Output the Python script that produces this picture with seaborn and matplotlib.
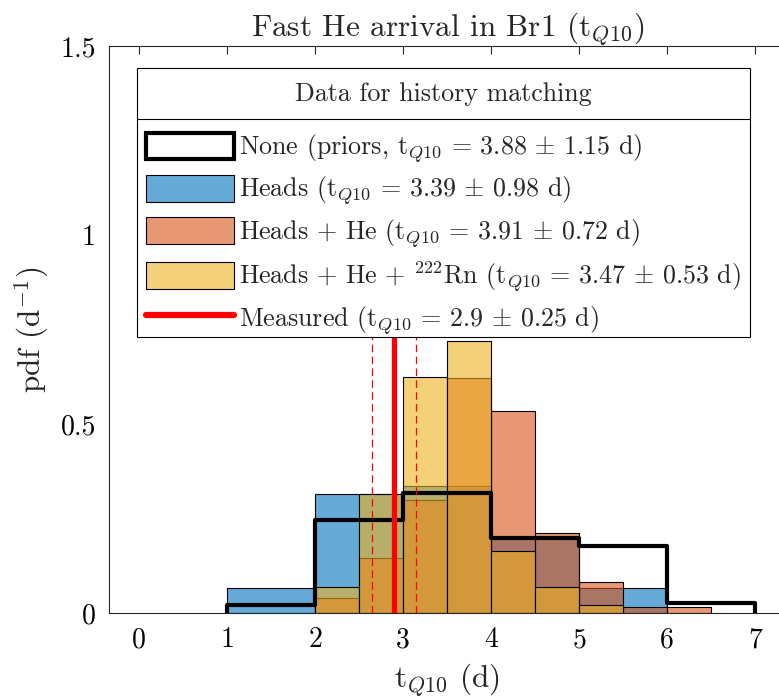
import numpy as np
import pandas as pd
import matplotlib
matplotlib.use("Agg")
import matplotlib.pyplot as plt
import seaborn as sns
from matplotlib.patches import Patch, Rectangle
from matplotlib.lines import Line2D
from matplotlib.colors import to_rgba

# ---------------- data (pdf per bin) ----------------
prior_edges = [1, 2, 3, 4, 5, 6, 7]
prior_pdf = [0.020, 0.247, 0.318, 0.198, 0.177, 0.027]

heads_edges = [1, 2, 3, 4, 5, 6]
heads_pdf = [0.065, 0.314, 0.337, 0.200, 0.065]

he_edges = [2, 2.5, 3, 3.5, 4, 4.5, 5, 5.5, 6, 6.5]
he_pdf = [0.039, 0.145, 0.299, 0.621, 0.534, 0.211, 0.083, 0.017, 0.017]

rn_edges = [2, 2.5, 3, 3.5, 4, 4.5, 5, 5.5]
rn_pdf = [0.070, 0.314, 0.625, 0.720, 0.164, 0.070, 0.021]

measured_mean = 2.9
measured_sd = 0.25
measured_line_top = 1.4

labels = [
    r'None (priors, t$_{Q10}$ = 3.88 $\pm$ 1.15 d)',
    r'Heads (t$_{Q10}$ = 3.39 $\pm$ 0.98 d)',
    r'Heads + He (t$_{Q10}$ = 3.91 $\pm$ 0.72 d)',
    r'Heads + He + $^{222}$Rn (t$_{Q10}$ = 3.47 $\pm$ 0.53 d)',
    r'Measured (t$_{Q10}$ = 2.9 $\pm$ 0.25 d)',
]
legend_title = 'Data for history matching'
title = r'Fast He arrival in Br1 (t$_{Q10}$)'
xlabel = r't$_{Q10}$ (d)'
ylabel = r'pdf (d$^{-1}$)'
xticks = [0, 1, 2, 3, 4, 5, 6, 7]
yticks = [0, 0.5, 1, 1.5]
ytick_labels = ['0', '0.5', '1', '1.5']

# ---------------- style ----------------
sns.set_style("white")
plt.rcParams['font.family'] = 'serif'
plt.rcParams['font.serif'] = ['cmr10']
plt.rcParams['mathtext.fontset'] = 'cm'
plt.rcParams['axes.formatter.use_mathtext'] = True
plt.rcParams['axes.unicode_minus'] = False

c_blue = (0.0, 0.447, 0.741)
c_orange = (0.850, 0.325, 0.098)
c_yellow = (0.929, 0.694, 0.125)
FS_TICK = 20
FS_LAB = 22.5
FS_LEG = 18.7
H = 699

fig = plt.figure(figsize=(7.79, 6.99), dpi=100)
ax = fig.add_axes([108.5 / 779, 86 / 699, (786 - 108.5) / 779, (613 - 46) / 699])


def centers(edges):
    e = np.asarray(edges, float)
    return (e[:-1] + e[1:]) / 2


for edges, pdf, col in [(heads_edges, heads_pdf, c_blue),
                        (he_edges, he_pdf, c_orange),
                        (rn_edges, rn_pdf, c_yellow)]:
    df = pd.DataFrame({'t': centers(edges), 'w': pdf})
    sns.histplot(data=df, x='t', weights='w', bins=edges, stat='count',
                 color=col, alpha=0.6, edgecolor='black', linewidth=0.8,
                 ax=ax, zorder=2)

dfp = pd.DataFrame({'t': centers(prior_edges), 'w': prior_pdf})
sns.histplot(data=dfp, x='t', weights='w', bins=prior_edges, stat='count',
             element='step', fill=False, color='black', linewidth=3.0,
             ax=ax, zorder=3)
# vertical drops of the stairs outline at both ends
ax.vlines([prior_edges[0], prior_edges[-1]], 0, [prior_pdf[0], prior_pdf[-1]],
          color='black', linewidth=3.0, zorder=3)

ax.vlines(measured_mean, 0, measured_line_top, color='red', linewidth=3.8, zorder=4)
ax.vlines([measured_mean - measured_sd, measured_mean + measured_sd], 0,
          measured_line_top, color='red', linewidth=0.9,
          linestyle=(0, (6, 3.5)), zorder=4)

ax.set_xlim(-0.35, 7.35)
ax.set_ylim(0, 1.5)
ax.set_xticks(xticks)
ax.set_xticklabels([str(t) for t in xticks])
ax.set_yticks(yticks)
ax.set_yticklabels(ytick_labels)
ax.tick_params(direction='in', length=6, width=0.8, top=True, right=False,
               labelsize=FS_TICK, colors=(0.15, 0.15, 0.15), labelcolor='black')
ax.tick_params(axis='x', pad=10)
ax.tick_params(axis='y', pad=9)
for s in ax.spines.values():
    s.set_color((0.15, 0.15, 0.15))
    s.set_linewidth(0.8)

ax.set_title(title, fontsize=FS_LAB, pad=7)
ax.set_xlabel(xlabel, fontsize=FS_LAB, labelpad=6)
ax.set_ylabel(ylabel, fontsize=FS_LAB, labelpad=7)

handles = [
    Patch(facecolor='white', edgecolor='black', linewidth=3),
    Patch(facecolor=to_rgba(c_blue, 0.6), edgecolor='black', linewidth=0.8),
    Patch(facecolor=to_rgba(c_orange, 0.6), edgecolor='black', linewidth=0.8),
    Patch(facecolor=to_rgba(c_yellow, 0.6), edgecolor='black', linewidth=0.8),
    Line2D([], [], color='red', linewidth=4.5),
]
leg = ax.legend(handles, labels, title=legend_title, loc='upper left',
                bbox_to_anchor=(0.05, 0.95), borderaxespad=0,
                fontsize=FS_LEG, title_fontsize=FS_LEG, frameon=False,
                handlelength=3.39, handleheight=1.2, handletextpad=0.2,
                labelspacing=0.36, borderpad=0.0)
leg.set_zorder(10)
leg._legend_box.sep = 19

inv = fig.transFigure.inverted()
renderer = fig.canvas.get_renderer()

# place the legend so that its title sits where the reference has it
fig.canvas.draw()
tb = leg.get_title().get_window_extent(renderer)
hx0 = leg.legend_handles[0].get_window_extent(renderer).x0
target_tc = H - 94.0
target_hx0 = 145.5
dx = target_hx0 - hx0
dy = target_tc - (tb.y0 + tb.y1) / 2
ax_inv = ax.transAxes.inverted()
bb = ax.transAxes.transform((0.05, 0.95))
nb = ax_inv.transform((bb[0] + dx, bb[1] + dy))
leg.set_bbox_to_anchor((nb[0], nb[1]), transform=ax.transAxes)
fig.canvas.draw()

tb = leg.get_title().get_window_extent(renderer)
hext = [h.get_window_extent(renderer) for h in leg.legend_handles]
text_right = max(t.get_window_extent(renderer).x1 for t in leg.get_texts())
tc = (tb.y0 + tb.y1) / 2
left = hext[0].x0 - 8.5
right = text_right + 9.5
top = tc + 26
last_c = (hext[-1].y0 + hext[-1].y1) / 2
bottom = last_c - 22
ysep = (tb.y0 + hext[0].y1) / 2

(fx0, fy0) = inv.transform((left, bottom))
(fx1, fy1) = inv.transform((right, top))
frame = Rectangle((fx0, fy0), fx1 - fx0, fy1 - fy0, transform=fig.transFigure,
                  facecolor='white', edgecolor='black', linewidth=0.8, zorder=9)
ax.add_artist(frame)
frame.set_clip_on(False)
(_, sy) = inv.transform((left, ysep))
sep_line = Line2D([fx0, fx1], [sy, sy], color='black', linewidth=0.8,
                  transform=fig.transFigure, zorder=9.5)
ax.add_artist(sep_line)
sep_line.set_clip_on(False)

fig.savefig('out.png', dpi=100)
